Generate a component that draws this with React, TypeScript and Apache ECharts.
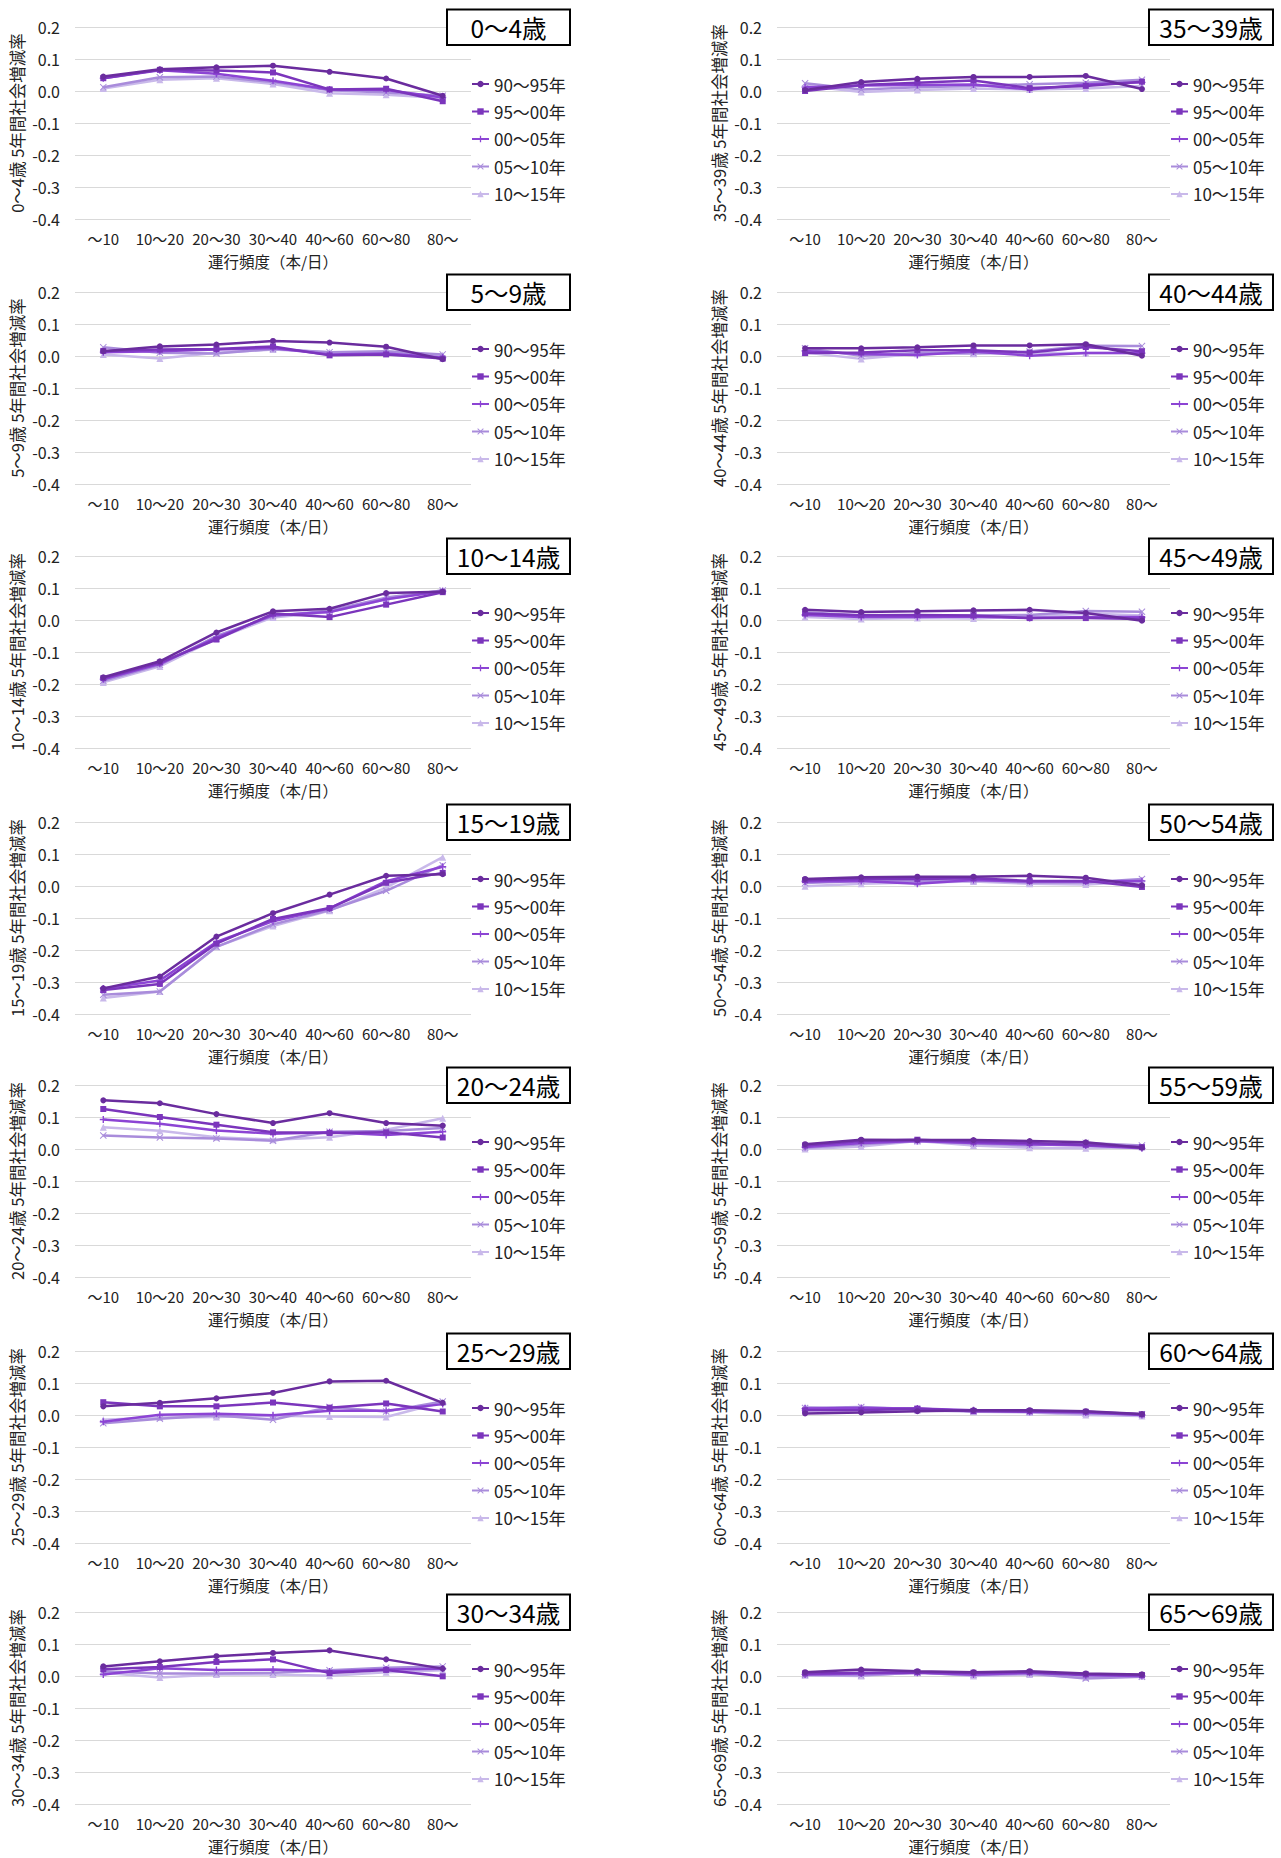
import React, { useEffect, useRef } from "react";
import * as echarts from "echarts";

const categories = ["～10", "10～20", "20～30", "30～40", "40～60", "60～80", "80～"];
const periods = ["90～95年", "95～00年", "00～05年", "05～10年", "10～15年"];
const yMin = -0.4;
const yMax = 0.2;
const yInterval = 0.1;

// each age group: rows = periods (90-95, 95-00, 00-05, 05-10, 10-15), cols = categories
const age0_4 = [
  [0.045, 0.068, 0.074, 0.079, 0.060, 0.039, -0.015],
  [0.040, 0.066, 0.064, 0.058, 0.005, 0.007, -0.032],
  [0.040, 0.065, 0.054, 0.032, 0.005, 0.003, -0.020],
  [0.012, 0.043, 0.045, 0.028, 0.002, -0.005, -0.015],
  [0.008, 0.035, 0.040, 0.022, -0.007, -0.012, -0.022],
];
const age5_9 = [
  [0.015, 0.030, 0.036, 0.047, 0.042, 0.029, -0.010],
  [0.016, 0.020, 0.022, 0.030, 0.002, 0.005, -0.008],
  [0.012, 0.015, 0.020, 0.025, 0.005, 0.008, -0.005],
  [0.027, 0.010, 0.008, 0.022, 0.012, 0.015, 0.005],
  [0.005, -0.008, 0.010, 0.020, 0.012, 0.012, 0.002],
];
const age10_14 = [
  [-0.179, -0.129, -0.039, 0.027, 0.035, 0.084, 0.088],
  [-0.182, -0.133, -0.061, 0.020, 0.009, 0.048, 0.087],
  [-0.185, -0.137, -0.055, 0.015, 0.025, 0.065, 0.090],
  [-0.190, -0.140, -0.050, 0.012, 0.030, 0.070, 0.092],
  [-0.195, -0.145, -0.058, 0.008, 0.025, 0.065, 0.093],
];
const age15_19 = [
  [-0.320, -0.283, -0.158, -0.085, -0.027, 0.032, 0.037],
  [-0.325, -0.306, -0.180, -0.103, -0.069, 0.010, 0.041],
  [-0.320, -0.295, -0.175, -0.110, -0.070, 0.015, 0.060],
  [-0.340, -0.330, -0.190, -0.120, -0.075, -0.015, 0.065],
  [-0.350, -0.330, -0.190, -0.125, -0.077, -0.005, 0.090],
];
const age20_24 = [
  [0.152, 0.143, 0.109, 0.081, 0.112, 0.081, 0.073],
  [0.125, 0.100, 0.076, 0.052, 0.050, 0.052, 0.036],
  [0.092, 0.079, 0.058, 0.048, 0.052, 0.044, 0.054],
  [0.042, 0.036, 0.033, 0.026, 0.054, 0.056, 0.066],
  [0.068, 0.057, 0.037, 0.029, 0.037, 0.060, 0.096],
];
const age25_29 = [
  [0.027, 0.038, 0.052, 0.069, 0.105, 0.107, 0.038],
  [0.040, 0.027, 0.027, 0.039, 0.023, 0.036, 0.011],
  [-0.021, 0.001, 0.004, -0.001, 0.013, 0.013, 0.034],
  [-0.026, -0.012, -0.001, -0.015, 0.025, 0.011, 0.042],
  [-0.015, -0.008, -0.006, -0.002, -0.005, -0.006, 0.040],
];
const age30_34 = [
  [0.030, 0.046, 0.062, 0.072, 0.080, 0.052, 0.023],
  [0.021, 0.028, 0.044, 0.052, 0.009, 0.019, -0.001],
  [0.005, 0.024, 0.019, 0.020, 0.014, 0.020, 0.023],
  [0.015, 0.008, 0.008, 0.010, 0.018, 0.026, 0.030],
  [0.010, -0.005, 0.005, 0.005, 0.001, 0.012, 0.018],
];
const age35_39 = [
  [0.003, 0.028, 0.038, 0.044, 0.044, 0.047, 0.006],
  [0.000, 0.019, 0.026, 0.033, 0.009, 0.016, 0.029],
  [0.012, 0.017, 0.019, 0.020, 0.005, 0.020, 0.027],
  [0.024, 0.005, 0.012, 0.016, 0.021, 0.026, 0.035],
  [0.016, -0.003, 0.003, 0.008, 0.005, 0.008, 0.016],
];
const age40_44 = [
  [0.024, 0.024, 0.027, 0.033, 0.033, 0.037, 0.001],
  [0.009, 0.011, 0.018, 0.018, 0.011, 0.028, 0.015],
  [0.016, 0.006, 0.003, 0.014, 0.001, 0.009, 0.009],
  [0.024, 0.001, 0.009, 0.009, 0.014, 0.032, 0.031],
  [0.011, -0.009, 0.007, 0.007, 0.009, 0.009, 0.009],
];
const age45_49 = [
  [0.032, 0.025, 0.027, 0.030, 0.032, 0.022, -0.002],
  [0.020, 0.015, 0.016, 0.014, 0.006, 0.006, 0.003],
  [0.016, 0.009, 0.009, 0.011, 0.006, 0.009, 0.009],
  [0.024, 0.014, 0.014, 0.014, 0.016, 0.028, 0.026],
  [0.009, 0.003, 0.006, 0.005, 0.011, 0.020, 0.014],
];
const age50_54 = [
  [0.022, 0.027, 0.029, 0.029, 0.032, 0.026, 0.002],
  [0.018, 0.022, 0.022, 0.024, 0.016, 0.016, -0.003],
  [0.014, 0.016, 0.007, 0.019, 0.014, 0.014, 0.016],
  [0.009, 0.016, 0.016, 0.018, 0.011, 0.011, 0.022],
  [-0.001, 0.007, 0.011, 0.014, 0.007, 0.005, 0.014],
];
const age55_59 = [
  [0.015, 0.029, 0.028, 0.028, 0.025, 0.021, 0.004],
  [0.011, 0.025, 0.029, 0.023, 0.019, 0.013, 0.006],
  [0.006, 0.019, 0.025, 0.019, 0.015, 0.011, 0.002],
  [0.004, 0.015, 0.025, 0.017, 0.011, 0.019, 0.011],
  [0.000, 0.008, 0.025, 0.011, 0.004, 0.002, 0.006],
];
const age60_64 = [
  [0.005, 0.008, 0.012, 0.015, 0.015, 0.012, 0.003],
  [0.015, 0.015, 0.020, 0.012, 0.012, 0.010, 0.002],
  [0.020, 0.022, 0.020, 0.015, 0.010, 0.008, 0.000],
  [0.022, 0.025, 0.018, 0.012, 0.010, 0.005, 0.002],
  [0.025, 0.015, 0.015, 0.010, 0.008, 0.000, -0.003],
];
const age65_69 = [
  [0.012, 0.020, 0.015, 0.012, 0.015, 0.008, 0.005],
  [0.008, 0.010, 0.012, 0.010, 0.012, 0.005, 0.003],
  [0.005, 0.008, 0.010, 0.005, 0.010, 0.002, 0.000],
  [0.003, 0.002, 0.010, 0.003, 0.008, -0.008, -0.002],
  [0.002, 0.000, 0.012, 0.000, 0.005, -0.005, 0.000],
];

const leftAges = ["0～4歳", "5～9歳", "10～14歳", "15～19歳", "20～24歳", "25～29歳", "30～34歳"];
const rightAges = ["35～39歳", "40～44歳", "45～49歳", "50～54歳", "55～59歳", "60～64歳", "65～69歳"];
const leftData = [age0_4, age5_9, age10_14, age15_19, age20_24, age25_29, age30_34];
const rightData = [age35_39, age40_44, age45_49, age50_54, age55_59, age60_64, age65_69];

const rowTops = [0, 265, 529, 795, 1058, 1324, 1585];
const colors = ["#6A2C9E", "#7B35BC", "#8C44D4", "#A98CDB", "#C9B9EA"];
const PLUS = "path://M4,0H6V4H10V6H6V10H4V6H0V4H4Z";
const CROSS = "path://M1,0L5,4L9,0L10,1L6,5L10,9L9,10L5,6L1,10L0,9L4,5L0,1Z";
const symbols = ["circle", "rect", PLUS, CROSS, "triangle"];
const symbolSizes = [6, 6, 7, 7, 7];

const FONT = "'Noto Sans CJK JP', 'Noto Sans', sans-serif";

type PanelProps = { age: string; data: number[][]; col: number; top: number };

function Panel({ age, data, col, top }: PanelProps) {
  const ref = useRef<HTMLDivElement>(null);
  const width = col === 0 ? 640 : 641;
  const height = 273;
  const gridLeft = col === 0 ? 75 : 137;
  const gridWidth = col === 0 ? 396 : 393;
  const boxX = col === 0 ? 447 : 509;
  const boxW = col === 0 ? 123 : 124;

  useEffect(() => {
    if (!ref.current) return;
    const chart = echarts.init(ref.current, null, { renderer: "svg" });
    chart.setOption({
      animation: false,
      textStyle: { fontFamily: FONT },
      grid: {
        left: gridLeft,
        top: 27,
        width: gridWidth,
        height: 192,
        containLabel: false,
        outerBoundsMode: "none",
      },
      legend: {
        orient: "vertical",
        left: gridLeft + gridWidth,
        top: 75.5,
        padding: 0,
        itemGap: 10.5,
        itemWidth: 17,
        itemHeight: 8,
        textStyle: { fontSize: 17, color: "#222", fontFamily: FONT },
        data: periods,
      },
      xAxis: {
        type: "category",
        data: categories,
        boundaryGap: true,
        axisLine: { show: false },
        axisTick: { show: false },
        axisLabel: {
          fontSize: 15,
          lineHeight: 15,
          color: "#222",
          margin: 11.5,
          interval: 0,
          fontFamily: FONT,
        },
        name: "運行頻度（本/日）",
        nameLocation: "middle",
        nameGap: 33.5,
        nameMoveOverlap: false,
        nameTextStyle: { fontSize: 15.5, color: "#222", fontFamily: FONT, lineHeight: 16 },
      },
      yAxis: {
        type: "value",
        min: yMin,
        max: yMax,
        interval: yInterval,
        axisLine: { show: false },
        axisTick: { show: false },
        splitLine: { lineStyle: { color: "#d9d9d9", width: 1 } },
        axisLabel: {
          fontSize: 16,
          color: "#222",
          margin: 15,
          fontFamily: FONT,
          formatter: (v: number) => (Math.abs(v) < 1e-9 ? "0.0" : v.toFixed(1)),
        },
        name: `${age} 5年間社会増減率`,
        nameLocation: "middle",
        nameGap: 50,
        nameMoveOverlap: false,
        nameTextStyle: { fontSize: 16.5, color: "#222", fontFamily: FONT },
      },
      graphic: [
        {
          type: "rect",
          shape: { x: boxX, y: 9.5, width: boxW, height: 35.5 },
          style: { fill: "#ffffff", stroke: "#000000", lineWidth: 2 },
          z: 10,
        },
        {
          type: "text",
          x: boxX + boxW / 2,
          y: 27.5,
          style: {
            text: age,
            fontSize: 24.5,
            fontFamily: FONT,
            fill: "#000",
            align: "center",
            verticalAlign: "middle",
          },
          z: 11,
        },
      ],
      series: periods.map((p, i) => ({
        name: p,
        type: "line",
        data: data[i],
        symbol: symbols[i],
        symbolSize: symbolSizes[i],
        showSymbol: true,
        lineStyle: { color: colors[i], width: 2.5 },
        itemStyle: { color: colors[i] },
        z: 10 - i,
      })),
    });
    return () => chart.dispose();
  }, [age, data, col]);

  return (
    <div
      ref={ref}
      style={{ position: "absolute", left: col === 0 ? 0 : 640, top, width, height }}
    />
  );
}

export default function App() {
  return (
    <div
      style={{
        position: "absolute",
        left: 0,
        top: 0,
        width: 1281,
        height: 1858,
        background: "#ffffff",
        overflow: "hidden",
      }}
    >
      {leftAges.map((a, i) => (
        <Panel key={a} age={a} data={leftData[i]} col={0} top={rowTops[i]} />
      ))}
      {rightAges.map((a, i) => (
        <Panel key={a} age={a} data={rightData[i]} col={1} top={rowTops[i]} />
      ))}
    </div>
  );
}
